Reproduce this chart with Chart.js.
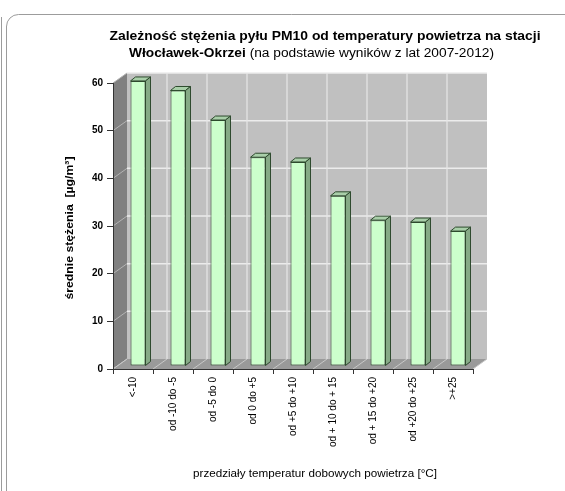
<!DOCTYPE html>
<html>
<head>
<meta charset="utf-8">
<script src="https://cdn.jsdelivr.net/npm/chart.js@4/dist/chart.umd.min.js"></script>
<style>
  html, body { margin: 0; padding: 0; background: #fff; overflow: hidden; }
  canvas { display: block; }
</style>
</head>
<body>
<canvas id="c" width="565" height="491"></canvas>
<script>
// Temperature classes (daily mean air temperature)
const categories = [
  '<-10', 'od -10 do -5', 'od -5 do 0', 'od 0 do +5', 'od +5 do +10',
  'od + 10 do + 15', 'od + 15 do +20', 'od +20 do +25', '>+25'
];
// Mean PM10 concentration in each class [µg/m³]
const meanPM10 = [59.8, 57.8, 51.6, 43.8, 42.8, 35.7, 30.6, 30.2, 28.3];
const yMin = 0;
const yMax = 60;
const yStep = 10;

const titleLine1 = 'Zależność stężenia pyłu PM10 od temperatury powietrza na stacji';
const titleLine2Bold = 'Włocławek-Okrzei';
const titleLine2Rest = ' (na podstawie wyników z lat 2007-2012)';
const yTitle = 'średnie stężenia  [µg/m³]';
const xTitle = 'przedziały temperatur dobowych powietrza [°C]';

const FONT = '"Liberation Sans", Arial, sans-serif';

// depth of the pseudo-3D box (walls and floor)
const DEPTH = { dx: 14, dy: -10 };
// bars stand a little behind the front plane
const BAR_SHIFT = { dx: 5, dy: -3 };
// depth of each column
const BAR_DEPTH = { dx: 5, dy: -4 };

function categoryBoundaries(xs) {
  const p0 = xs.getPixelForValue(0);
  const step = xs.getPixelForValue(1) - p0;
  const out = [];
  for (let i = 0; i <= categories.length; i++) out.push(p0 - step / 2 + i * step);
  return out;
}

// draws a run of [text, font] pieces centred on cx, stretched to the given width
function drawStretched(ctx, pieces, cx, cy, width) {
  let total = 0;
  const widths = pieces.map(([t, f]) => { ctx.font = f; const w = ctx.measureText(t).width; total += w; return w; });
  const sx = width / total;
  ctx.save();
  ctx.translate(cx - width / 2, cy);
  ctx.scale(sx, 1);
  ctx.textAlign = 'left';
  ctx.textBaseline = 'middle';
  let x = 0;
  pieces.forEach(([t, f], i) => { ctx.font = f; ctx.fillText(t, x, 0); x += widths[i]; });
  ctx.restore();
}

const backdrop = {
  id: 'backdrop',
  beforeDraw(chart) {
    const ctx = chart.ctx;
    const { left: L, right: R, top: T, bottom: B } = chart.chartArea;
    const xs = chart.scales.x, ys = chart.scales.y;
    const { dx, dy } = DEPTH;
    ctx.save();
    ctx.fillStyle = '#fff';
    ctx.fillRect(0, 0, chart.width, chart.height);

    // page frame
    ctx.strokeStyle = '#9c9c9c';
    ctx.lineWidth = 1;
    ctx.beginPath();
    ctx.moveTo(1.5, 17); ctx.lineTo(1.5, chart.height);
    ctx.stroke();
    ctx.beginPath();
    ctx.moveTo(6.5, chart.height);
    ctx.lineTo(6.5, 26);
    ctx.arcTo(6.5, 14.5, 18.5, 14.5, 12);
    ctx.lineTo(chart.width, 14.5);
    ctx.stroke();

    // titles
    ctx.fillStyle = '#000';
    drawStretched(ctx, [[titleLine1, 'bold 12.5px ' + FONT]], 325, 37, 431);
    drawStretched(ctx, [[titleLine2Bold, 'bold 12.5px ' + FONT], [titleLine2Rest, '12.5px ' + FONT]], 311.5, 54, 365);

    // axis titles
    drawStretched(ctx, [[xTitle, '11px ' + FONT]], 315, 474, 244);
    ctx.save();
    ctx.translate(70, 228);
    ctx.rotate(-Math.PI / 2);
    drawStretched(ctx, [[yTitle, 'bold 10.5px ' + FONT]], 0, 0, 143);
    ctx.restore();

    // side wall
    ctx.fillStyle = '#808080';
    ctx.beginPath();
    ctx.moveTo(L, B); ctx.lineTo(L, T); ctx.lineTo(L + dx, T + dy); ctx.lineTo(L + dx, B + dy);
    ctx.closePath(); ctx.fill();
    // back wall
    ctx.fillStyle = '#c0c0c0';
    ctx.fillRect(L + dx, T + dy, R - L, B - T);
    // floor
    ctx.fillStyle = '#9a9a9a';
    ctx.beginPath();
    ctx.moveTo(L, B); ctx.lineTo(R, B); ctx.lineTo(R + dx, B + dy); ctx.lineTo(L + dx, B + dy);
    ctx.closePath(); ctx.fill();

    // value gridlines on back and side walls
    for (let v = yMin; v <= yMax; v += yStep) {
      const y = ys.getPixelForValue(v);
      ctx.strokeStyle = '#b4b4b4';
      ctx.lineWidth = 1;
      ctx.beginPath(); ctx.moveTo(L, y); ctx.lineTo(L + dx, y + dy); ctx.stroke();
      if (v > yMin) {
        ctx.strokeStyle = '#ececec';
        ctx.lineWidth = 1.5;
        ctx.beginPath(); ctx.moveTo(L + dx, y + dy); ctx.lineTo(R + dx, y + dy); ctx.stroke();
      }
    }
    // category gridlines on back wall and floor
    const bounds = categoryBoundaries(xs);
    bounds.forEach((x, i) => {
      if (i > 0 && i < bounds.length - 1) {
        ctx.strokeStyle = '#e6e6e6';
        ctx.lineWidth = 1.2;
        ctx.beginPath(); ctx.moveTo(x + dx, T + dy); ctx.lineTo(x + dx, B + dy); ctx.stroke();
      }
      ctx.strokeStyle = '#c8c8c8';
      ctx.lineWidth = 1;
      ctx.beginPath(); ctx.moveTo(x, B); ctx.lineTo(x + dx, B + dy); ctx.stroke();
    });
    ctx.restore();
  }
};

const columns3d = {
  id: 'columns3d',
  beforeDatasetsDraw(chart) {
    chart.ctx.save();
    chart.ctx.translate(BAR_SHIFT.dx, BAR_SHIFT.dy);
  },
  afterDatasetsDraw(chart) {
    const ctx = chart.ctx;
    const { dx, dy } = BAR_DEPTH;
    chart.getDatasetMeta(0).data.forEach(bar => {
      const { x, y, base, width } = bar.getProps(['x', 'y', 'base', 'width'], true);
      const l = x - width / 2, r = x + width / 2;
      ctx.lineWidth = 1;
      ctx.strokeStyle = '#2e4a2e';
      // top face
      ctx.fillStyle = '#a9cfa9';
      ctx.beginPath();
      ctx.moveTo(l, y); ctx.lineTo(l + dx, y + dy); ctx.lineTo(r + dx, y + dy); ctx.lineTo(r, y);
      ctx.closePath(); ctx.fill(); ctx.stroke();
      // side face
      ctx.fillStyle = '#86aa86';
      ctx.beginPath();
      ctx.moveTo(r, y); ctx.lineTo(r + dx, y + dy); ctx.lineTo(r + dx, base + dy); ctx.lineTo(r, base);
      ctx.closePath(); ctx.fill(); ctx.stroke();
    });
    ctx.restore();
  }
};

new Chart(document.getElementById('c'), {
  type: 'bar',
  data: {
    labels: categories,
    datasets: [{
      data: meanPM10,
      backgroundColor: '#ccffcc',
      borderColor: '#2e4a2e',
      borderWidth: 1,
      borderSkipped: false,
      barPercentage: 0.375,
      categoryPercentage: 1,
      clip: false
    }]
  },
  options: {
    responsive: false,
    animation: false,
    events: [],
    layout: { padding: { left: 0, top: 83, right: 92, bottom: 0 } },
    plugins: { legend: { display: false }, title: { display: false }, tooltip: { enabled: false } },
    scales: {
      x: {
        offset: true,
        grid: { display: true, drawOnChartArea: false, drawTicks: true, tickLength: 5, color: '#333', offset: true },
        border: { display: true, color: '#333' },
        ticks: { minRotation: 90, maxRotation: 90, autoSkip: false, padding: 3, color: '#000', font: { family: FONT, size: 10 } },
        afterFit(s) { s.height = 122; }
      },
      y: {
        min: yMin, max: yMax,
        grid: { display: true, drawOnChartArea: false, drawTicks: true, tickLength: 6, color: '#333' },
        border: { display: true, color: '#333' },
        ticks: { stepSize: yStep, padding: 4, color: '#000', font: { family: FONT, size: 10, weight: 'bold' } },
        afterFit(s) { s.width = 113; }
      }
    }
  },
  plugins: [backdrop, columns3d]
});
</script>
</body>
</html>
